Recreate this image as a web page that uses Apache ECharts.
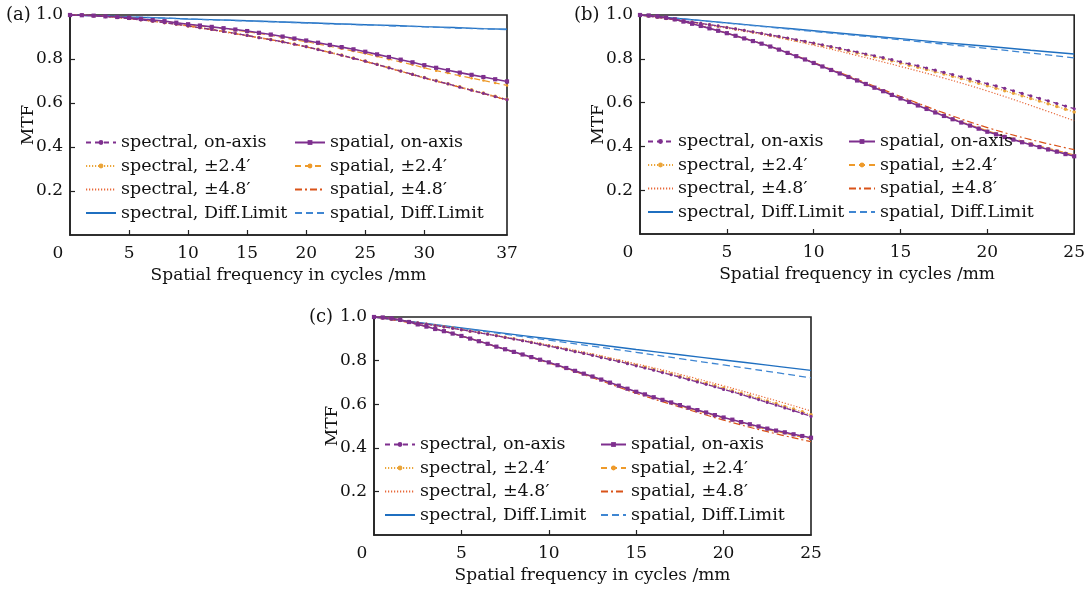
<!DOCTYPE html>
<html>
<head>
<meta charset="utf-8">
<script src="https://cdn.jsdelivr.net/npm/echarts@6/dist/echarts.min.js"></script>
<style>
html,body{margin:0;padding:0;background:#fff;}
#c{width:1088px;height:590px;}
</style>
</head>
<body>
<div id="c"></div>
<script>
// ---------- data ----------
const names = {
  specOn: 'spectral, on-axis', spatOn: 'spatial, on-axis',
  spec24: 'spectral, \u00b12.4\u2032', spat24: 'spatial, \u00b12.4\u2032',
  spec48: 'spectral, \u00b14.8\u2032', spat48: 'spatial, \u00b14.8\u2032',
  specDL: 'spectral, Diff.Limit', spatDL: 'spatial, Diff.Limit'
};
const panelLabels = ['(a)', '(b)', '(c)'];
const xAxisTitle = 'Spatial frequency in cycles /mm';
const yAxisTitle = 'MTF';
const xTicksA = [0, 5, 10, 15, 20, 25, 30, 37];
const xTicksB = [0, 5, 10, 15, 20, 25];
const yTicks = [0.2, 0.4, 0.6, 0.8, 1.0];

// x samples
const xA = [0,1,2,3,4,5,6,7,8,9,10,11,12,13,14,15,16,17,18,19,20,21,22,23,24,25,26,27,28,29,30,31,32,33,34,35,36,37];
const xA2 = [0,2.5,5,7.5,10,12.5,15,17.5,20,22.5,25,27.5,30,32.5,35,37];
const xB = [0,0.5,1,1.5,2,2.5,3,3.5,4,4.5,5,5.5,6,6.5,7,7.5,8,8.5,9,9.5,10,10.5,11,11.5,12,12.5,13,13.5,14,14.5,15,15.5,16,16.5,17,17.5,18,18.5,19,19.5,20,20.5,21,21.5,22,22.5,23,23.5,24,24.5,25];
const xB2 = [0,2.5,5,7.5,10,12.5,15,17.5,20,22.5,25];

// panel (a)
const aSpecOn = [1.000,0.999,0.997,0.993,0.989,0.984,0.978,0.972,0.965,0.958,0.950,0.942,0.934,0.925,0.916,0.907,0.897,0.888,0.878,0.867,0.856,0.843,0.830,0.817,0.803,0.790,0.775,0.760,0.745,0.730,0.715,0.701,0.687,0.672,0.658,0.644,0.629,0.615];
const aSpec24 = [1.000,0.999,0.997,0.993,0.989,0.984,0.978,0.972,0.965,0.958,0.950,0.943,0.935,0.926,0.917,0.908,0.898,0.889,0.879,0.868,0.857,0.844,0.831,0.818,0.804,0.791,0.776,0.761,0.746,0.731,0.716,0.702,0.688,0.674,0.660,0.646,0.631,0.617];
const aSpatOn = [1.000,0.999,0.997,0.994,0.991,0.987,0.982,0.977,0.972,0.965,0.958,0.952,0.946,0.940,0.934,0.927,0.919,0.911,0.902,0.893,0.884,0.874,0.864,0.854,0.844,0.833,0.821,0.809,0.797,0.785,0.772,0.760,0.749,0.738,0.728,0.718,0.708,0.698];
const aSpat24 = [1.000,0.999,0.997,0.994,0.991,0.987,0.982,0.976,0.971,0.964,0.957,0.950,0.944,0.938,0.931,0.924,0.916,0.907,0.898,0.888,0.879,0.868,0.858,0.847,0.836,0.825,0.812,0.799,0.787,0.774,0.760,0.747,0.736,0.724,0.713,0.702,0.691,0.680];
const aSpec48 = [1.000,0.995,0.983,0.968,0.949,0.927,0.905,0.881,0.854,0.822,0.788,0.751,0.713,0.678,0.642,0.613];
const aSpat48 = [1.000,0.996,0.984,0.969,0.950,0.930,0.906,0.883,0.855,0.823,0.789,0.752,0.714,0.679,0.643,0.614];
const aSpecDL = [1.000,0.996,0.991,0.987,0.982,0.978,0.974,0.969,0.965,0.960,0.956,0.952,0.947,0.943,0.938,0.935];
const aSpatDL = [1.000,0.996,0.991,0.987,0.982,0.977,0.973,0.968,0.964,0.959,0.955,0.950,0.946,0.941,0.937,0.934];

// panel (b)
const bSpecOn = [1.000,0.995,0.990,0.984,0.979,0.973,0.968,0.962,0.956,0.950,0.943,0.937,0.930,0.923,0.916,0.909,0.902,0.895,0.887,0.880,0.872,0.864,0.856,0.848,0.839,0.831,0.822,0.814,0.805,0.796,0.786,0.777,0.768,0.758,0.748,0.738,0.728,0.718,0.708,0.697,0.686,0.676,0.665,0.654,0.642,0.631,0.619,0.608,0.596,0.584,0.572];
const bSpec24 = [1.000,0.995,0.990,0.984,0.979,0.973,0.967,0.961,0.955,0.949,0.943,0.936,0.929,0.922,0.915,0.908,0.901,0.893,0.885,0.878,0.870,0.861,0.853,0.845,0.836,0.827,0.818,0.809,0.800,0.791,0.781,0.771,0.761,0.751,0.741,0.731,0.720,0.710,0.699,0.688,0.677,0.666,0.654,0.643,0.631,0.619,0.607,0.595,0.582,0.570,0.557];
const bSpatOn = [1.000,0.998,0.994,0.988,0.980,0.970,0.960,0.950,0.939,0.928,0.917,0.905,0.893,0.881,0.869,0.856,0.842,0.827,0.812,0.797,0.781,0.765,0.749,0.733,0.717,0.701,0.685,0.668,0.652,0.635,0.619,0.603,0.587,0.571,0.555,0.539,0.524,0.509,0.495,0.481,0.467,0.455,0.443,0.431,0.419,0.408,0.397,0.386,0.376,0.365,0.355];
const bSpat24 = [1.000,0.998,0.994,0.988,0.980,0.970,0.960,0.950,0.939,0.928,0.917,0.905,0.893,0.881,0.869,0.857,0.843,0.828,0.813,0.798,0.782,0.766,0.750,0.734,0.718,0.702,0.687,0.670,0.654,0.637,0.621,0.605,0.589,0.574,0.558,0.542,0.527,0.512,0.498,0.485,0.471,0.459,0.447,0.435,0.424,0.413,0.402,0.391,0.381,0.371,0.361];
const bSpec48 = [1.000,0.972,0.940,0.904,0.862,0.815,0.765,0.712,0.653,0.587,0.517];
const bSpat48 = [1.000,0.970,0.917,0.856,0.783,0.706,0.628,0.553,0.486,0.431,0.385];
const bSpecDL = [1.000,0.982,0.964,0.946,0.928,0.910,0.892,0.874,0.857,0.839,0.822];
const bSpatDL = [1.000,0.982,0.963,0.944,0.925,0.906,0.887,0.867,0.847,0.826,0.804];

// panel (c)
const cSpecOn = [1.000,0.995,0.990,0.984,0.979,0.973,0.967,0.961,0.955,0.948,0.942,0.935,0.928,0.921,0.914,0.906,0.899,0.891,0.883,0.875,0.867,0.859,0.850,0.841,0.833,0.824,0.814,0.805,0.796,0.786,0.776,0.766,0.756,0.745,0.735,0.724,0.713,0.702,0.691,0.680,0.668,0.657,0.645,0.633,0.621,0.608,0.596,0.583,0.570,0.558,0.544];
const cSpec24 = [1.000,0.995,0.990,0.984,0.979,0.973,0.967,0.961,0.955,0.949,0.942,0.935,0.929,0.922,0.915,0.907,0.900,0.892,0.884,0.876,0.868,0.860,0.852,0.843,0.834,0.826,0.816,0.807,0.798,0.788,0.779,0.769,0.759,0.749,0.739,0.728,0.717,0.707,0.696,0.685,0.674,0.662,0.650,0.639,0.627,0.615,0.603,0.590,0.578,0.565,0.552];
const cSpatOn = [1.000,0.998,0.994,0.987,0.977,0.966,0.956,0.945,0.935,0.924,0.913,0.901,0.889,0.877,0.864,0.852,0.840,0.828,0.816,0.804,0.792,0.779,0.766,0.753,0.740,0.727,0.713,0.699,0.685,0.671,0.657,0.645,0.632,0.620,0.608,0.596,0.584,0.573,0.562,0.550,0.539,0.529,0.518,0.508,0.498,0.488,0.479,0.471,0.462,0.454,0.446];
const cSpat24 = [1.000,0.998,0.994,0.987,0.977,0.966,0.956,0.945,0.935,0.924,0.913,0.901,0.889,0.877,0.864,0.852,0.839,0.827,0.815,0.803,0.791,0.778,0.765,0.752,0.739,0.726,0.712,0.697,0.683,0.669,0.655,0.643,0.630,0.618,0.606,0.594,0.581,0.570,0.559,0.547,0.536,0.526,0.514,0.504,0.494,0.484,0.475,0.467,0.457,0.449,0.441];
const cSpec48 = [1.000,0.973,0.943,0.908,0.871,0.830,0.785,0.737,0.684,0.628,0.569];
const cSpat48 = [1.000,0.966,0.913,0.851,0.789,0.722,0.650,0.587,0.527,0.474,0.428];
const cSpecDL = [1.000,0.975,0.950,0.925,0.900,0.876,0.851,0.827,0.803,0.779,0.755];
const cSpatDL = [1.000,0.974,0.948,0.921,0.894,0.866,0.838,0.809,0.780,0.751,0.721];

// ---------- layout / style ----------
const FONT = '"DejaVu Serif", serif';
const TXT = '#111';
const FS = 17;
const C = {
  purple: '#7E2F8E', gold: '#EBA53A', orange: '#EE9A2A',
  red1: '#E8693A', red2: '#D95319', blue1: '#1F6FC0', blue2: '#3F86D2'
};
const grids = [
  {left: 70, top: 15, width: 437, height: 220},
  {left: 640, top: 15, width: 436, height: 219},
  {left: 374, top: 317, width: 437, height: 218}
];
const legendPos = [
  {l: 85, lw: 30, r: 294, rw: 30, top: 134},
  {l: 647, lw: 25, r: 848, rw: 26, top: 133},
  {l: 384, lw: 30, r: 600, rw: 25, top: 436}
];

function pairs(xs, ys) { return ys.map((y, i) => [xs[i], y]); }

const panels = [
  {xmax: 37, ticks: xTicksA, xf: xA, xc: xA2,
   d: {specOn: aSpecOn, spatOn: aSpatOn, spec24: aSpec24, spat24: aSpat24, spec48: aSpec48, spat48: aSpat48, specDL: aSpecDL, spatDL: aSpatDL}},
  {xmax: 25, ticks: xTicksB, xf: xB, xc: xB2,
   d: {specOn: bSpecOn, spatOn: bSpatOn, spec24: bSpec24, spat24: bSpat24, spec48: bSpec48, spat48: bSpat48, specDL: bSpecDL, spatDL: bSpatDL}},
  {xmax: 25, ticks: xTicksB, xf: xB, xc: xB2,
   d: {specOn: cSpecOn, spatOn: cSpatOn, spec24: cSpec24, spat24: cSpat24, spec48: cSpec48, spat48: cSpat48, specDL: cSpecDL, spatDL: cSpatDL}}
];

const styles = {
  specDL: {color: C.blue1, type: 'solid', width: 1.4, sym: 'none', fine: false},
  spatDL: {color: C.blue2, type: [7, 4], width: 1.3, sym: 'none', fine: false},
  spec48: {color: C.red1, type: [1.2, 1.8], width: 1.2, sym: 'none', fine: false},
  spat48: {color: C.red2, type: [7, 3, 2, 3], width: 1.2, sym: 'none', fine: false},
  spec24: {color: C.gold, type: [1.2, 1.8], width: 1.2, sym: 'circle', size: 3.5, fine: true},
  spat24: {color: C.orange, type: [6, 4], width: 1.2, sym: 'circle', size: 2.5, fine: true},
  specOn: {color: C.purple, type: [5, 4], width: 1.3, sym: 'circle', size: 3.2, fine: true},
  spatOn: {color: C.purple, type: 'solid', width: 1.6, sym: 'rect', size: 4.2, fine: true}
};
const drawOrder = ['specDL', 'spatDL', 'spec48', 'spat48', 'spec24', 'spat24', 'specOn', 'spatOn'];

const option = {
  animation: false,
  backgroundColor: '#fff',
  title: panelLabels.map((t, i) => ({
    text: t, left: [6, 574, 309][i], top: [6, 6, 308][i], padding: 0,
    textStyle: {fontFamily: FONT, fontSize: 18, fontWeight: 'normal', color: TXT}
  })),
  grid: grids.map(g => Object.assign({show: true, borderColor: '#222', borderWidth: 1.6, backgroundColor: 'transparent'}, g)),
  xAxis: panels.map((p, i) => ({
    type: 'value', gridIndex: i, min: 0, max: p.xmax,
    name: xAxisTitle, nameLocation: 'middle', nameGap: 32,
    nameTextStyle: {fontFamily: FONT, fontSize: FS, color: TXT},
    axisLine: {lineStyle: {color: '#222', width: 1.6}},
    axisTick: {inside: true, length: 5, lineStyle: {color: '#222', width: 1.2},
      customValues: p.ticks.filter(v => v > 0 && v < p.xmax)},
    splitLine: {show: false},
    axisLabel: {
      customValues: p.ticks, margin: 10, color: TXT, fontFamily: FONT, fontSize: FS,
      formatter: v => (v === 0 ? '{z|0}' : String(v)),
      rich: {z: {fontFamily: FONT, fontSize: FS, color: TXT, padding: [0, 24, 0, 0]}}
    }
  })),
  yAxis: panels.map((p, i) => ({
    type: 'value', gridIndex: i, min: 0, max: 1,
    name: yAxisTitle, nameLocation: 'middle', nameRotate: 90, nameGap: 33,
    nameMoveOverlap: false,
    nameTextStyle: {fontFamily: FONT, fontSize: FS, color: TXT},
    axisLine: {lineStyle: {color: '#222', width: 1.6}},
    axisTick: {inside: true, length: 5, lineStyle: {color: '#222', width: 1.2}, customValues: yTicks.filter(v => v < 1)},
    splitLine: {show: false},
    axisLabel: {customValues: yTicks, margin: 7, color: TXT, fontFamily: FONT, fontSize: FS,
      formatter: v => v.toFixed(1)}
  })),
  legend: [],
  series: []
};

const leftKeys = ['specOn', 'spec24', 'spec48', 'specDL'];
const rightKeys = ['spatOn', 'spat24', 'spat48', 'spatDL'];
function legendData(keys) {
  return keys.map(k => styles[k].sym === 'none'
    ? {name: names[k], itemStyle: {opacity: 0}}
    : {name: names[k]});
}
legendPos.forEach(lp => {
  [[lp.l, lp.lw, leftKeys], [lp.r, lp.rw, rightKeys]].forEach(([left, w, keys]) => {
    option.legend.push({
      orient: 'vertical', left: left, top: lp.top - 1, padding: 0,
      itemWidth: w, itemHeight: 6, itemGap: 4.5, selectedMode: false,
      textStyle: {fontFamily: FONT, fontSize: 17.5, lineHeight: 19, color: TXT},
      data: legendData(keys)
    });
  });
});

panels.forEach((p, i) => {
  drawOrder.forEach(k => {
    const s = styles[k];
    const xs = s.fine ? p.xf : p.xc;
    option.series.push({
      name: names[k], type: 'line', xAxisIndex: i, yAxisIndex: i,
      data: pairs(xs, p.d[k]),
      smooth: s.fine ? false : 0.4,
      symbol: s.sym, symbolSize: s.size || 0, showSymbol: s.sym !== 'none',
      clip: false,
      itemStyle: {color: s.color},
      lineStyle: {color: s.color, type: s.type, width: s.width},
      emphasis: {disabled: true}
    });
  });
});

const chart = echarts.init(document.getElementById('c'), null, {renderer: 'canvas'});
chart.setOption(option);
</script>
</body>
</html>
